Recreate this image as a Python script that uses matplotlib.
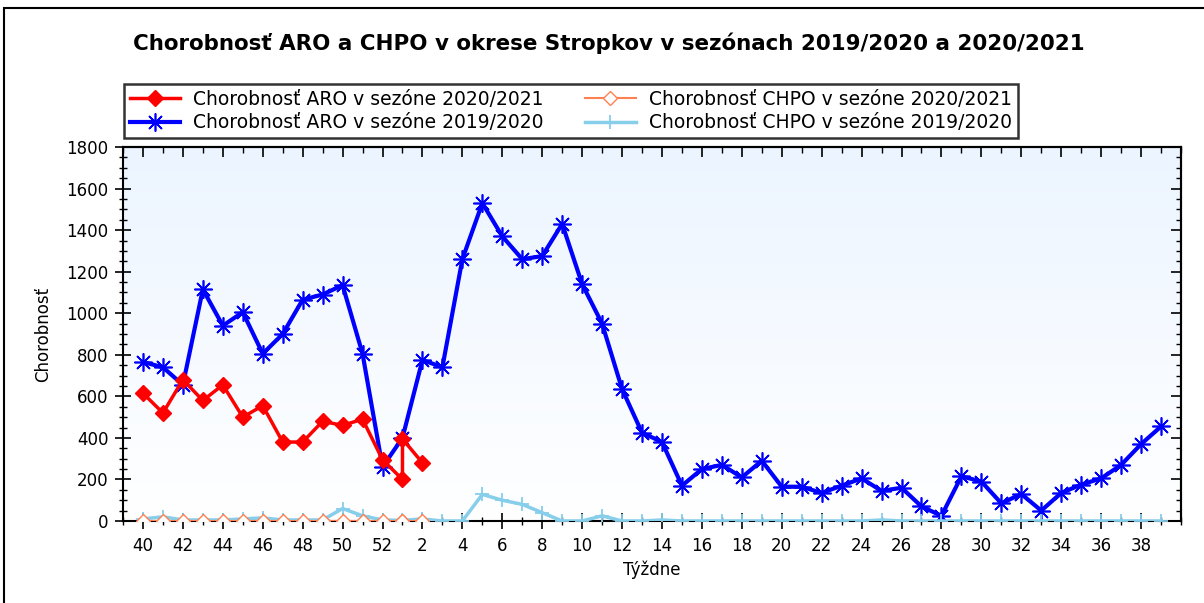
import numpy as np
import matplotlib
matplotlib.use("Agg")
import matplotlib.pyplot as plt
from matplotlib.patches import Rectangle
from matplotlib.ticker import MultipleLocator, FixedLocator, NullFormatter

plt.rcParams['font.family'] = ['DejaVu Sans']

# ---- data ----
title = "Chorobnosť ARO a CHPO v okrese Stropkov v sezónach 2019/2020 a 2020/2021"
aro_2021_weeks = [40, 41, 42, 43, 44, 45, 46, 47, 48, 49, 50, 51, 52, 53, 1, 2]
aro_2021 = [615, 520, 680, 580, 655, 500, 555, 380, 380, 480, 460, 490, 295, 200, 395, 280]

chpo_2021_weeks = [40, 41, 42, 43, 44, 45, 46, 47, 48, 49, 50, 51, 52, 53, 1, 2]
chpo_2021 = [0] * 16

aro_1920_weeks = list(range(40, 53)) + list(range(1, 40))
aro_1920 = [765, 740, 655, 1115, 940, 1005, 805, 900, 1065, 1090, 1135, 805, 260,
            400, 775, 740, 1260, 1530, 1370, 1260, 1275, 1430, 1140, 950, 635,
            425, 380, 170, 250, 270, 210, 290, 165, 165, 135, 170, 205, 145,
            160, 70, 25, 215, 190, 85, 130, 50, 135, 175, 205, 270, 370, 455]

chpo_1920_weeks = list(range(40, 53)) + list(range(1, 40))
chpo_1920 = [10, 20, 5, 5, 5, 10, 15, 5, 5, 5, 60, 25, 5,
             3, 10, 0, 0, 128, 100, 80, 40, 0, 0, 25, 0,
             0, 5, 0, 0, 0, 0, 0, 0, 0, 0, 0, 0, 5,
             0, 0, 0, 0, 0, 0, 0, 0, 0, 0, 0, 0, 0, 0]

tick_weeks = [40, 42, 44, 46, 48, 50, 52] + list(range(2, 40, 2))


def pos(w):
    # category position on the week axis (weeks 53 and 1 share one slot)
    if 40 <= w <= 52:
        return w - 40
    if w == 53:
        return 13
    return w + 12


fig = plt.figure(figsize=(12.04, 6.03), dpi=100)
W, H = 1204, 603
ax = fig.add_axes([123 / W, 1 - 521 / H, (1181 - 123) / W, (521 - 147) / H])

# gradient background (light blue at top -> white at bottom)
grad = np.linspace(0, 1, 256).reshape(-1, 1)
top = np.array([0.925, 0.96, 1.0])
bot = np.array([1.0, 1.0, 1.0])
img = top[None, None, :] * (1 - grad[:, :, None]) + bot[None, None, :] * grad[:, :, None]
ax.imshow(img, extent=[-1, 52, 0, 1800], origin='upper', aspect='auto', zorder=0)

ax.plot([pos(w) for w in aro_1920_weeks], aro_1920, color='#0000FF', lw=3,
        marker=(8, 2, 0), ms=13, mew=1.2, label='Chorobnosť ARO v sezóne 2019/2020', zorder=3)
ax.plot([pos(w) for w in aro_2021_weeks], aro_2021, color='#FF0000', lw=2.5,
        marker='D', ms=8.5, label='Chorobnosť ARO v sezóne 2020/2021', zorder=4)
ax.plot([pos(w) for w in chpo_1920_weeks], chpo_1920, color='#87CEEB', lw=2.5,
        marker='+', ms=10, mew=1.3, label='Chorobnosť CHPO v sezóne 2019/2020', zorder=3)
ax.plot([pos(w) for w in chpo_2021_weeks], chpo_2021, color='#FF8050', lw=1.5,
        marker='D', ms=7, mfc='white', mec='#FF8050', mew=1.0,
        label='Chorobnosť CHPO v sezóne 2020/2021', zorder=5)

ax.set_xlim(-1, 52)
ax.set_ylim(0, 1800)
ax.yaxis.set_major_locator(MultipleLocator(200))
ax.yaxis.set_minor_locator(MultipleLocator(50))
ax.xaxis.set_major_locator(FixedLocator([pos(w) for w in tick_weeks]))
ax.set_xticklabels([str(w) for w in tick_weeks])
ax.xaxis.set_minor_locator(MultipleLocator(1))
ax.tick_params(axis='both', which='major', direction='inout', length=11, width=1.2,
               labelsize=12, labelcolor='black')
ax.tick_params(axis='both', which='minor', direction='inout', length=6, width=1.0)
ax.tick_params(axis='x', which='major', pad=6)
ax.tick_params(axis='y', which='major', pad=5)
for s in ax.spines.values():
    s.set_linewidth(1.5)

# inward ticks on top and right sides
sx = ax.secondary_xaxis('top')
sx.xaxis.set_major_locator(FixedLocator([pos(w) for w in tick_weeks]))
sx.xaxis.set_minor_locator(MultipleLocator(1))
sx.xaxis.set_major_formatter(NullFormatter())
sx.tick_params(which='major', direction='in', length=7, width=1.2)
sx.tick_params(which='minor', direction='in', length=4, width=1.0)
sy = ax.secondary_yaxis('right')
sy.yaxis.set_major_locator(MultipleLocator(200))
sy.yaxis.set_minor_locator(MultipleLocator(50))
sy.yaxis.set_major_formatter(NullFormatter())
sy.tick_params(which='major', direction='in', length=7, width=1.2)
sy.tick_params(which='minor', direction='in', length=3.5, width=1.0)
for s in list(sx.spines.values()) + list(sy.spines.values()):
    s.set_linewidth(1.5)

ax.set_xlabel('Týždne', fontsize=12, labelpad=4)
ax.set_ylabel('Chorobnosť', fontsize=12, labelpad=10)

fig.text(609 / W, 1 - 43 / H, title, ha='center', va='center', fontsize=15.4,
         fontweight='bold')

h, l = ax.get_legend_handles_labels()
# h: [blue, red, lightblue, orange]; column-major fill -> rows: red|orange, blue|lightblue
order = [1, 0, 3, 2]
leg = fig.legend([h[i] for i in order], [l[i] for i in order], ncol=2,
                 loc='upper left', bbox_to_anchor=(124 / W, 1 - 84 / H),
                 frameon=True, fancybox=False, fontsize=13.5, handlelength=2.7,
                 columnspacing=2.2, borderpad=0.3, labelspacing=0.25,
                 handletextpad=0.7, borderaxespad=0)
leg.get_frame().set_edgecolor('black')
leg.get_frame().set_linewidth(1.8)

fig.patches.append(Rectangle((4 / W, -0.1), 1.2, 1 - 8 / H + 0.1, transform=fig.transFigure,
                             fill=False, edgecolor='black', lw=1.5))

fig.savefig('out.png', dpi=100)
